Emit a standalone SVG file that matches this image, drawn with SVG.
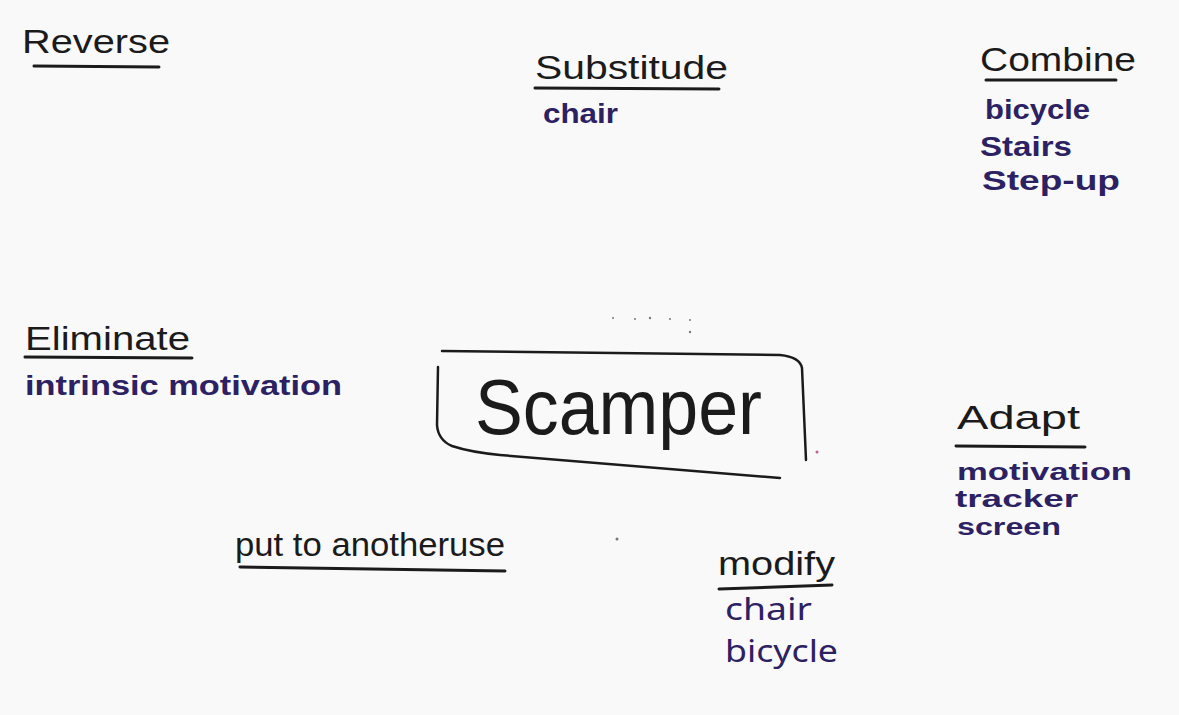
<svg xmlns="http://www.w3.org/2000/svg" width="1179" height="715" viewBox="0 0 1179 715">
  <style>
    .h{font-family:"Liberation Sans","Noto Sans",sans-serif;fill:#1b1b1b;font-size:34px;}
    .i{font-family:"Liberation Sans","Noto Sans",sans-serif;fill:#2c2163;font-size:27px;font-weight:bold;}
    .s{font-size:23px;}
    .u{stroke:#1b1b1b;stroke-width:3;fill:none;stroke-linecap:round;}
    .box{stroke:#1b1b1b;stroke-width:2.5;fill:none;stroke-linecap:round;stroke-linejoin:round;}
  </style>
  <rect x="0" y="0" width="1179" height="715" fill="#f9f9f9"/>

  <g id="reverse">
    <text class="h" x="22" y="53" textLength="148" lengthAdjust="spacingAndGlyphs">Reverse</text>
    <path class="u" d="M34 66 L159 67"/>
  </g>

  <g id="substitude">
    <text class="h" x="535" y="79" textLength="193" lengthAdjust="spacingAndGlyphs">Substitude</text>
    <path class="u" d="M535 88 L719 89"/>
    <text class="i" x="543" y="123" textLength="75" lengthAdjust="spacingAndGlyphs">chair</text>
  </g>

  <g id="combine">
    <text class="h" x="980" y="71" textLength="156" lengthAdjust="spacingAndGlyphs">Combine</text>
    <path class="u" d="M986 80 L1116 80"/>
    <text class="i" x="985" y="119" textLength="105" lengthAdjust="spacingAndGlyphs">bicycle</text>
    <text class="i" x="980" y="156" textLength="92" lengthAdjust="spacingAndGlyphs">Stairs</text>
    <text class="i" x="982" y="190" textLength="138" lengthAdjust="spacingAndGlyphs">Step-up</text>
  </g>

  <g id="eliminate">
    <text class="h" x="25" y="350" textLength="165" lengthAdjust="spacingAndGlyphs">Eliminate</text>
    <path class="u" d="M25 357 L192 358"/>
    <text class="i" x="25" y="395" textLength="317" lengthAdjust="spacingAndGlyphs">intrinsic motivation</text>
  </g>

  <g id="scamper">
    <path class="box" d="M442 351 L780 355 Q800 357 802 368 L806 460"/>
    <path class="box" d="M438 367 L437 425 Q438 440 452 446 Q470 452 500 455 L780 478"/>
    <text x="475" y="434" font-family="Liberation Sans, Noto Sans, sans-serif" font-size="78" fill="#1b1b1b" textLength="287" lengthAdjust="spacingAndGlyphs">Scamper</text>
  </g>

  <g id="adapt">
    <text class="h" x="957" y="429" textLength="123" lengthAdjust="spacingAndGlyphs">Adapt</text>
    <path class="u" d="M956 446 L1085 447"/>
    <text class="i s" x="957" y="480" textLength="175" lengthAdjust="spacingAndGlyphs">motivation</text>
    <text class="i s" x="955" y="507" textLength="123" lengthAdjust="spacingAndGlyphs">tracker</text>
    <text class="i s" x="957" y="535" textLength="104" lengthAdjust="spacingAndGlyphs">screen</text>
  </g>

  <g id="put-to-another-use">
    <text class="h" x="235" y="556" font-size="26" textLength="270" lengthAdjust="spacingAndGlyphs">put to anotheruse</text>
    <path class="u" d="M240 567 L505 571"/>
  </g>

  <g id="modify">
    <text class="h" x="718" y="575" textLength="117" lengthAdjust="spacingAndGlyphs">modify</text>
    <path class="u" d="M719 589 L832 585"/>
    <text x="725" y="620" font-family="Noto Sans, Liberation Sans, sans-serif" font-size="30" fill="#2c2163" textLength="87" lengthAdjust="spacingAndGlyphs">chair</text>
    <text x="725" y="662" font-family="Noto Sans, Liberation Sans, sans-serif" font-size="30" fill="#2c2163" textLength="113" lengthAdjust="spacingAndGlyphs">bicycle</text>
  </g>

  <g id="connectors"></g>

  <g fill="#777">
    <circle cx="613" cy="318" r="1"/><circle cx="635" cy="319" r="1"/><circle cx="650" cy="318" r="1.2"/>
    <circle cx="670" cy="319" r="1"/><circle cx="690" cy="320" r="1"/><circle cx="690" cy="332" r="1.2"/>
    <circle cx="617" cy="539" r="1.5"/><circle cx="817" cy="452" r="1.5" fill="#c06090"/>
  </g>
</svg>
